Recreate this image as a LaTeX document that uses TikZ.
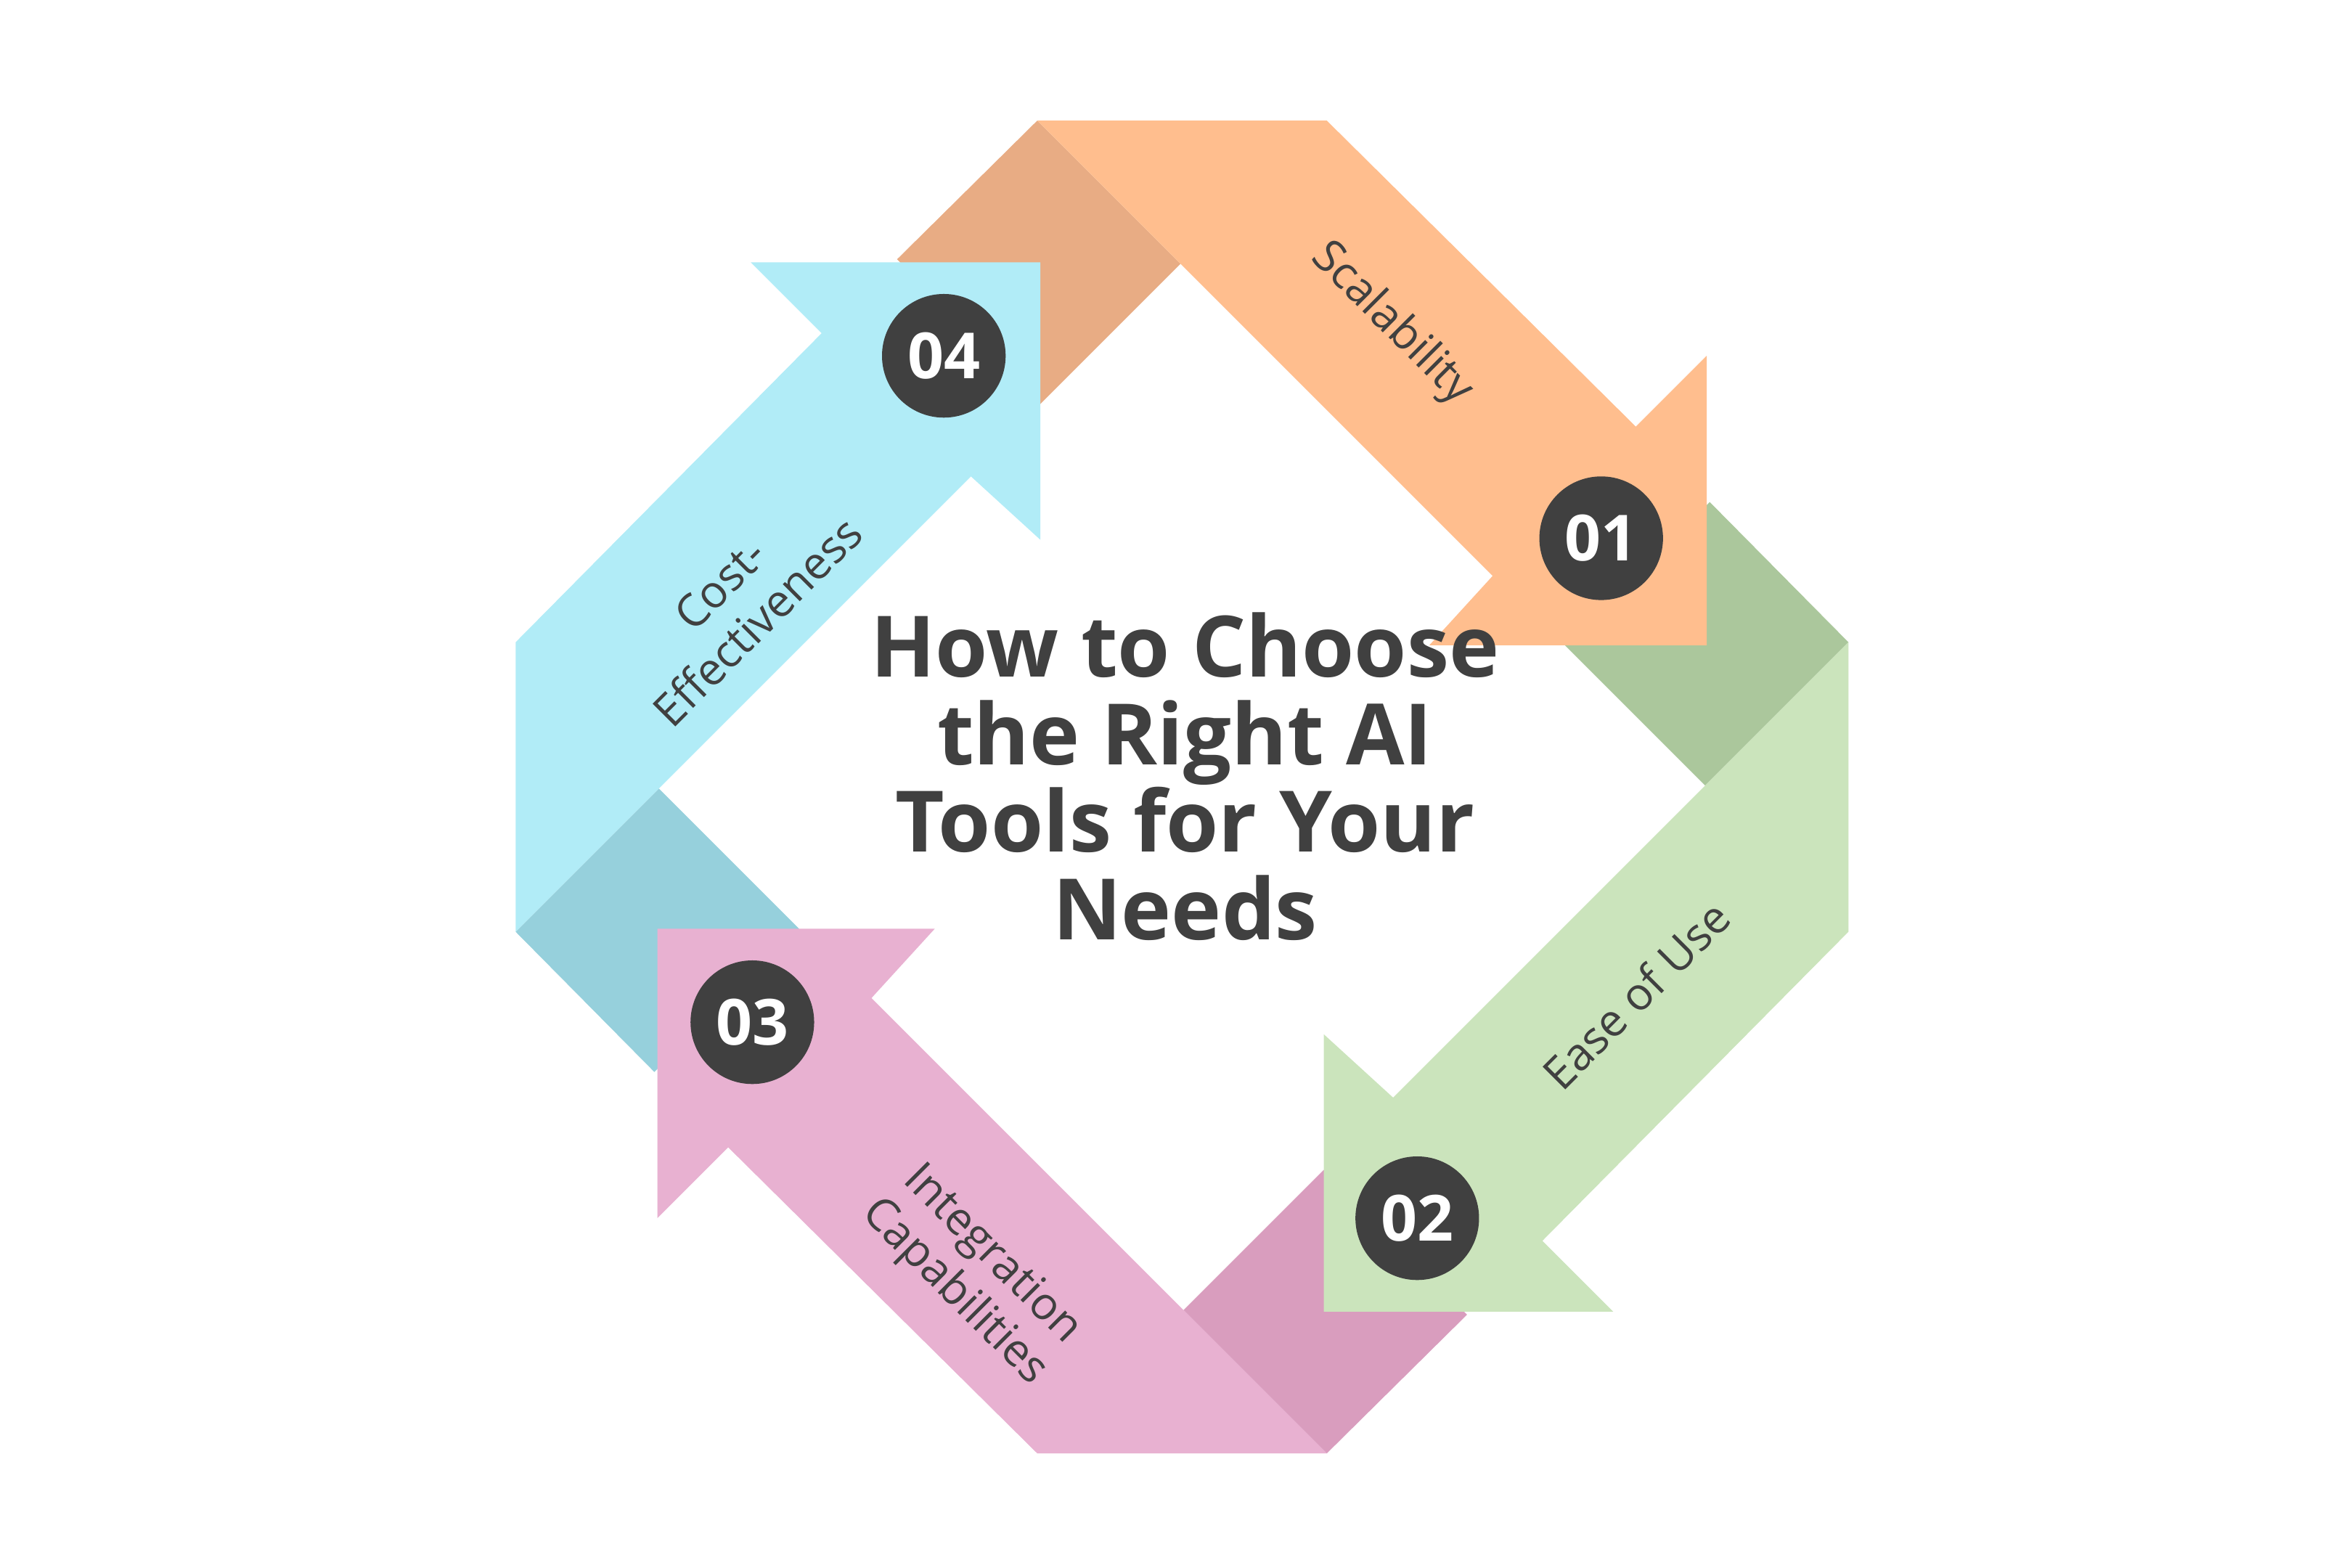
\documentclass[tikz,border=0pt]{standalone}
\usepackage{fontspec}
\setmainfont{Open Sans}
\begin{document}
\begin{tikzpicture}
\useasboundingbox[fill=white] (-7.84,-5.18) rectangle (7.76,5.22);
\definecolor{cor}{HTML}{FFBE8E}\definecolor{cord}{HTML}{E8AC84}
\definecolor{cgr}{HTML}{CBE4BC}\definecolor{cgrd}{HTML}{ABC79C}
\definecolor{cpk}{HTML}{E8B1D1}\definecolor{cpkd}{HTML}{D99DBE}
\definecolor{ccy}{HTML}{B1ECF7}\definecolor{ccyd}{HTML}{96D0DC}
\definecolor{ink}{HTML}{404040}
\tikzset{
 fold/.pic={\fill[#1] (-1.89,3.50)--(-0.96,4.42)--(-0.01,3.47)--(-0.94,2.54)--cycle;},
 arrowbody/.pic={\fill[#1] (-0.96,4.42)--(0.96,4.42)--(3.01,2.39)--(3.48,2.86)--(3.48,0.94)--(1.64,0.94)--(2.06,1.40)--cycle;},
 badge/.style={circle,fill=ink,minimum size=0.82cm,inner sep=0pt,text=white,font=\bfseries\fontsize{12}{12}\selectfont},
 lbl/.style={text=ink,font=\fontsize{8.5}{10}\selectfont,align=center},
 title/.style={text=ink,font=\bfseries\fontsize{16}{16.5}\selectfont,align=center}
}
\pic[rotate=0] {fold=cord};
\pic[rotate=-90] {fold=cgrd};
\pic[rotate=-180] {fold=cpkd};
\pic[rotate=-270] {fold=ccyd};
\pic[rotate=0] {arrowbody=cor};
\pic[rotate=-90] {arrowbody=cgr};
\pic[rotate=-180] {arrowbody=cpk};
\pic[rotate=-270] {arrowbody=ccy};
\node[badge] (b1) at (2.78,1.65) {01};
\node[badge] (b2) at (1.56,-2.86) {02};
\node[badge] (b3) at (-2.85,-1.56) {03};
\node[badge] (b4) at (-1.58,2.86) {04};
\node[lbl,rotate=-45] (l1) at (1.39,3.07) {Scalability};
\node[lbl,rotate=45] (l2) at (3.01,-1.38) {Ease of Use};
\node[lbl,rotate=-45] (l3) at (-1.39,-3.23) {Integration\\Capabilities};
\node[lbl,rotate=45] (l4) at (-2.94,1.22) {Cost-\\Effectiveness};
\node[title] (t) at (0.02,0.07) {How to Choose\\the Right AI\\Tools for Your\\Needs};
\end{tikzpicture}
\end{document}
